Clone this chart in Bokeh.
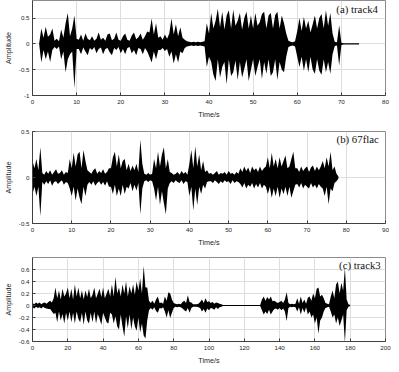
import numpy as np
from bokeh.plotting import figure
from bokeh.layouts import column
from bokeh.models import FixedTicker, Label, Range1d
from bokeh.embed import file_html
from bokeh.resources import INLINE

# ---------------- data (waveform envelopes) ----------------
# (a) track4, one max/min pair every 0.5 s from 0 s
a_step = 0.5
a_upper = [0, 0, 0, 0,
           0.3, 0.12, 0.33, 0.14, 0.18, 0.3,
           0.06, 0.1, 0.05,
           0.28, 0.12, 0.4, 0.6, 0.15, 0.3, 0.55, 0.1,
           0.08, 0.18, 0.06, 0.2, 0.1, 0.07, 0.15, 0.06, 0.1, 0.22,
           0.08, 0.12, 0.06, 0.18, 0.2, 0.07, 0.1, 0.22, 0.08, 0.06,
           0.15, 0.2, 0.08, 0.06, 0.16, 0.22, 0.09, 0.13, 0.2, 0.08,
           0.15, 0.24,
           0.22, 0.49, 0.18, 0.4, 0.12,
           0.15, 0.08, 0.18, 0.1,
           0.2, 0.49, 0.18, 0.38, 0.15, 0.32, 0.12,
           0.08, 0.05, 0.04, 0.03, 0.04, 0.03, 0.04, 0.03, 0.04, 0.05,
           0.4, 0.2,
           0.6, 0.3, 0.45, 0.68, 0.32, 0.62, 0.28, 0.55, 0.65, 0.3,
           0.66, 0.35, 0.45, 0.6, 0.28, 0.5, 0.62, 0.3, 0.55, 0.3,
           0.6, 0.35, 0.42, 0.58, 0.62, 0.3, 0.55, 0.6, 0.3, 0.56,
           0.62, 0.3, 0.55, 0.4, 0.2,
           0.06, 0.04, 0.03, 0.05, 0.25,
           0.5, 0.25, 0.52, 0.3, 0.45, 0.22, 0.38, 0.55, 0.3, 0.5, 0.58, 0.3, 0.65, 0.35, 0.6, 0.2,
           0.04, 0.03, 0.36, 0.02, 0.01, 0.01, 0.01, 0.01, 0.01, 0.01, 0.01, 0.01]
a_lower = [0, 0, 0, 0,
           -0.36, -0.12, -0.3, -0.15, -0.35, -0.12,
           -0.06, -0.1, -0.05,
           -0.3, -0.15, -0.55, -0.3, -0.2, -0.15, -0.86, -0.1,
           -0.1, -0.2, -0.07, -0.15, -0.22, -0.08, -0.12, -0.06, -0.18, -0.1,
           -0.07, -0.2, -0.1, -0.08, -0.16, -0.22, -0.08, -0.12, -0.06, -0.18,
           -0.1, -0.2, -0.08, -0.06, -0.18, -0.12, -0.22, -0.08, -0.1, -0.2,
           -0.08, -0.15,
           -0.25, -0.36, -0.15, -0.3, -0.12,
           -0.12, -0.08, -0.14, -0.1,
           -0.25, -0.15, -0.38, -0.2, -0.36, -0.15, -0.18,
           -0.08, -0.05, -0.04, -0.03, -0.04, -0.03, -0.04, -0.03, -0.04, -0.05,
           -0.45, -0.25,
           -0.35, -0.6, -0.72, -0.3, -0.65, -0.45, -0.35, -0.78, -0.3, -0.62,
           -0.55, -0.32, -0.7, -0.35, -0.65, -0.48, -0.3, -0.72, -0.5, -0.3,
           -0.62, -0.45, -0.3, -0.68, -0.35, -0.58, -0.3, -0.62, -0.55, -0.3,
           -0.7, -0.35, -0.5, -0.55, -0.25,
           -0.06, -0.04, -0.03, -0.05, -0.25,
           -0.45, -0.25, -0.52, -0.3, -0.55, -0.25, -0.5, -0.58, -0.3, -0.52, -0.6, -0.3, -0.55, -0.35, -0.58, -0.2,
           -0.04, -0.03, -0.42, -0.02, -0.01, -0.01, -0.01, -0.01, -0.01, -0.01, -0.01, -0.01]

# (b) 67flac, one max/min pair every 0.5 s from 0 s
b_step = 0.5
b_upper = [0.18, 0.1, 0.2, 0.08, 0.33,
           0.05, 0.03, 0.07, 0.04, 0.08, 0.03, 0.06, 0.09, 0.04, 0.05, 0.08, 0.03, 0.06, 0.05,
           0.2, 0.1, 0.27, 0.12, 0.25, 0.28, 0.1, 0.3, 0.18, 0.08,
           0.06, 0.04, 0.08, 0.1, 0.04, 0.07, 0.05, 0.09, 0.04, 0.06, 0.1,
           0.1, 0.22, 0.28, 0.12, 0.25, 0.1, 0.18, 0.2, 0.08,
           0.15, 0.07, 0.13, 0.08, 0.15, 0.06,
           0.41, 0.15,
           0.04, 0.03, 0.05, 0.03, 0.04,
           0.2, 0.1, 0.28, 0.12, 0.25, 0.33, 0.1, 0.2, 0.06,
           0.05, 0.03, 0.04, 0.06, 0.03, 0.07, 0.04, 0.06, 0.03,
           0.15, 0.3, 0.1, 0.34, 0.12, 0.25, 0.08, 0.18, 0.06, 0.08, 0.04,
           0.05, 0.03, 0.05, 0.07, 0.03, 0.05, 0.04, 0.06, 0.03, 0.07, 0.04, 0.05, 0.03, 0.06, 0.04,
           0.1, 0.06, 0.12, 0.07, 0.11, 0.05, 0.12, 0.08, 0.1, 0.06, 0.12, 0.07, 0.1,
           0.12, 0.22, 0.1, 0.27, 0.12, 0.2, 0.1, 0.22, 0.12, 0.18, 0.24, 0.1, 0.12, 0.2, 0.28, 0.1,
           0.1, 0.06, 0.12, 0.07, 0.1, 0.12, 0.06, 0.11, 0.13, 0.07, 0.12, 0.08, 0.12,
           0.18, 0.1, 0.22, 0.12, 0.28, 0.08, 0.12, 0.04, 0.01]
b_lower = [-0.18, -0.1, -0.2, -0.1, -0.42,
           -0.05, -0.08, -0.04, -0.07, -0.03, -0.09, -0.05, -0.04, -0.07, -0.05, -0.03, -0.08, -0.05, -0.06,
           -0.12, -0.2, -0.1, -0.25, -0.12, -0.22, -0.29, -0.1, -0.2, -0.08,
           -0.05, -0.08, -0.04, -0.09, -0.06, -0.04, -0.08, -0.05, -0.09, -0.04, -0.1,
           -0.1, -0.18, -0.08, -0.2, -0.12, -0.2, -0.08, -0.18, -0.1,
           -0.12, -0.06, -0.15, -0.08, -0.14, -0.06,
           -0.4, -0.12,
           -0.04, -0.03, -0.05, -0.03, -0.04,
           -0.12, -0.25, -0.1, -0.3, -0.15, -0.28, -0.4, -0.12, -0.06,
           -0.04, -0.06, -0.03, -0.05, -0.06, -0.03, -0.07, -0.04, -0.05,
           -0.2, -0.1, -0.36, -0.12, -0.3, -0.1, -0.18, -0.08, -0.12, -0.05, -0.04,
           -0.04, -0.06, -0.03, -0.05, -0.07, -0.04, -0.06, -0.03, -0.05, -0.04, -0.07, -0.03, -0.06, -0.04, -0.05,
           -0.07, -0.11, -0.06, -0.12, -0.08, -0.1, -0.06, -0.12, -0.07, -0.11, -0.06, -0.12, -0.08,
           -0.1, -0.18, -0.1, -0.22, -0.12, -0.2, -0.1, -0.22, -0.12, -0.18, -0.1, -0.2, -0.1, -0.22, -0.15, -0.08,
           -0.07, -0.11, -0.06, -0.12, -0.08, -0.1, -0.12, -0.06, -0.11, -0.08, -0.12, -0.07, -0.1,
           -0.12, -0.2, -0.1, -0.29, -0.12, -0.15, -0.06, -0.04, -0.01]

# (c) track3, one max/min pair every 1 s from 0 s
c_step = 1.0
c_upper = [0.04, 0.02, 0.05, 0.03, 0.05, 0.02, 0.04, 0.05, 0.03, 0.06,
           0.08, 0.05, 0.12,
           0.3, 0.12, 0.25, 0.1, 0.28, 0.15, 0.2, 0.3, 0.12, 0.28,
           0.1, 0.35, 0.15, 0.3, 0.12, 0.25, 0.1, 0.25, 0.14, 0.28,
           0.12, 0.18, 0.3, 0.12, 0.2, 0.28, 0.14, 0.3, 0.12, 0.2,
           0.28, 0.15,
           0.35, 0.15, 0.48, 0.2, 0.3, 0.15, 0.35, 0.2, 0.4, 0.15, 0.32, 0.2, 0.35, 0.18, 0.4,
           0.25, 0.45, 0.2, 0.66, 0.3, 0.3, 0.08,
           0.04, 0.08, 0.03, 0.1, 0.15, 0.04, 0.05, 0.03,
           0.15, 0.08, 0.22, 0.2, 0.1, 0.04,
           0.03, 0.02, 0.03, 0.02,
           0.06, 0.08, 0.04, 0.17, 0.06, 0.05, 0.02,
           0.02, 0.02, 0.03,
           0.06, 0.1, 0.04, 0.12, 0.06, 0.07, 0.04,
           0.06, 0.03, 0.05, 0.04, 0.03, 0.02,
           0.01, 0.01, 0.01, 0.01, 0.01, 0.01, 0.01, 0.01, 0.01, 0.01, 0.01,
           0.01, 0.01, 0.01, 0.01, 0.01, 0.01, 0.01, 0.01, 0.01, 0.01, 0.01,
           0.1, 0.15, 0.08, 0.14, 0.1, 0.15, 0.07, 0.08,
           0.06, 0.04, 0.06, 0.08, 0.04, 0.1,
           0.22, 0.04,
           0.02, 0.03, 0.02, 0.03,
           0.12, 0.03, 0.15, 0.04, 0.1, 0.03, 0.13,
           0.15, 0.08, 0.2, 0.12, 0.28, 0.3, 0.15, 0.18, 0.12, 0.04,
           0.03, 0.02,
           0.15, 0.25, 0.12, 0.35, 0.4, 0.2, 0.38, 0.25, 0.63, 0.1,
           0.02, 0.01]
c_lower = [-0.03, -0.05, -0.02, -0.04, -0.03, -0.05, -0.02, -0.04, -0.05, -0.06,
           -0.06, -0.1, -0.14,
           -0.12, -0.28, -0.1, -0.25, -0.14, -0.3, -0.12, -0.25, -0.1, -0.28,
           -0.12, -0.3, -0.1, -0.22, -0.28, -0.12, -0.32, -0.1, -0.25, -0.3,
           -0.12, -0.28, -0.1, -0.3, -0.14, -0.22, -0.32, -0.12, -0.2, -0.28,
           -0.3, -0.12,
           -0.15, -0.3, -0.18, -0.35, -0.4, -0.15, -0.35, -0.52, -0.18, -0.38, -0.15, -0.4, -0.2, -0.35, -0.42,
           -0.2, -0.45, -0.3, -0.5, -0.55, -0.25, -0.08,
           -0.04, -0.07, -0.03, -0.09, -0.12, -0.04, -0.05, -0.03,
           -0.1, -0.2, -0.08, -0.21, -0.12, -0.04,
           -0.02, -0.03, -0.02, -0.03,
           -0.05, -0.08, -0.1, -0.04, -0.12, -0.04, -0.02,
           -0.02, -0.02, -0.03,
           -0.04, -0.1, -0.06, -0.12, -0.05, -0.08, -0.04,
           -0.05, -0.07, -0.03, -0.06, -0.03, -0.02,
           -0.01, -0.01, -0.01, -0.01, -0.01, -0.01, -0.01, -0.01, -0.01, -0.01, -0.01,
           -0.01, -0.01, -0.01, -0.01, -0.01, -0.01, -0.01, -0.01, -0.01, -0.01, -0.01,
           -0.08, -0.15, -0.1, -0.14, -0.07, -0.15, -0.1, -0.06,
           -0.05, -0.07, -0.04, -0.08, -0.05, -0.1,
           -0.26, -0.04,
           -0.02, -0.03, -0.02, -0.03,
           -0.1, -0.03, -0.15, -0.04, -0.12, -0.03, -0.15,
           -0.1, -0.2, -0.15, -0.3, -0.2, -0.47, -0.25, -0.2, -0.1, -0.04,
           -0.03, -0.02,
           -0.1, -0.2, -0.15, -0.3, -0.2, -0.34, -0.25, -0.15, -0.62, -0.08,
           -0.02, -0.01]

titles = ["(a) track4", "(b) 67flac", "(c) track3"]
a_xticks = [0, 10, 20, 30, 40, 50, 60, 70, 80]
b_xticks = [0, 10, 20, 30, 40, 50, 60, 70, 80, 90]
c_xticks = [0, 20, 40, 60, 80, 100, 120, 140, 160, 180, 200]
a_yticks = [-1, -0.5, 0, 0.5]
a_ylabels = ["-1", "-0.5", "0", "0.5"]
b_yticks = [-0.5, 0, 0.5]
b_ylabels = ["-0.5", "0", "0.5"]
c_yticks = [-0.6, -0.4, -0.2, 0, 0.2, 0.4, 0.6]
c_ylabels = ["-0.6", "-0.4", "-0.2", "0", "0.2", "0.4", "0.6"]

assert len(a_upper) == len(a_lower)
assert len(b_upper) == len(b_lower)
assert len(c_upper) == len(c_lower)

SANS = "Liberation Sans"
SERIF = "Liberation Serif"
W = 392


def panel(title, step, upper, lower, xr, xticks, yr, yticks, ylabels,
          height, top, bottom, right, title_xy):
    t = np.arange(len(upper)) * step
    p = figure(width=W, height=height, output_backend="svg", toolbar_location=None,
               x_range=Range1d(*xr), y_range=Range1d(*yr),
               min_border_left=26, min_border_right=right,
               min_border_top=top, min_border_bottom=bottom)
    p.background_fill_color = "white"
    p.border_fill_color = "white"
    p.outline_line_color = "#8c8c8c"
    p.varea(x=t, y1=lower, y2=upper, fill_color="black")

    p.xgrid.ticker = FixedTicker(ticks=xticks)
    p.ygrid.ticker = FixedTicker(ticks=yticks)
    for g in (p.xgrid, p.ygrid):
        g.grid_line_color = "#dedede"
        g.grid_line_width = 1

    xa = p.xaxis[0]
    xa.ticker = FixedTicker(ticks=xticks)
    xa.axis_label = "Time/s"
    ya = p.yaxis[0]
    ya.ticker = FixedTicker(ticks=yticks)
    ya.major_label_overrides = {v: s for v, s in zip(yticks, ylabels)}
    ya.axis_label = "Amplitude"
    for ax in (xa, ya):
        ax.major_tick_in = 3
        ax.major_tick_out = 0
        ax.minor_tick_line_color = None
        ax.axis_line_color = "#404040"
        ax.major_tick_line_color = "#404040"
        ax.major_label_text_font = SANS
        ax.major_label_text_font_size = "6.2px"
        ax.major_label_text_color = "#262626"
        ax.axis_label_text_font = SANS
        ax.axis_label_text_font_size = "7.2px"
        ax.axis_label_text_font_style = "normal"
        ax.axis_label_text_color = "#262626"
    xa.major_label_standoff = 4
    xa.axis_label_standoff = 3
    ya.major_label_standoff = 3
    ya.axis_label_standoff = 3

    p.add_layout(Label(x=title_xy[0], y=title_xy[1], text=title,
                       text_align="right", text_baseline="middle",
                       text_font=SERIF, text_font_size="10.8px", text_color="#111111"))
    return p


pa = panel(titles[0], a_step, a_upper, a_lower, (0, 80), a_xticks, (-1, 0.84),
           a_yticks, a_ylabels, 122, 0, 27, 5, (78.3, 0.67))
pb = panel(titles[1], b_step, b_upper, b_lower, (0, 90), b_xticks, (-0.5, 0.5),
           b_yticks, b_ylabels, 127, 9, 25, 3, (88.3, 0.42))
pc = panel(titles[2], c_step, c_upper, c_lower, (0, 200), c_xticks, (-0.6, 0.8),
           c_yticks, c_ylabels, 118, 8, 20, 7, (197.3, 0.67))

layout = column(pa, pb, pc, spacing=0)
open("out.html", "w").write(file_html(layout, INLINE))
